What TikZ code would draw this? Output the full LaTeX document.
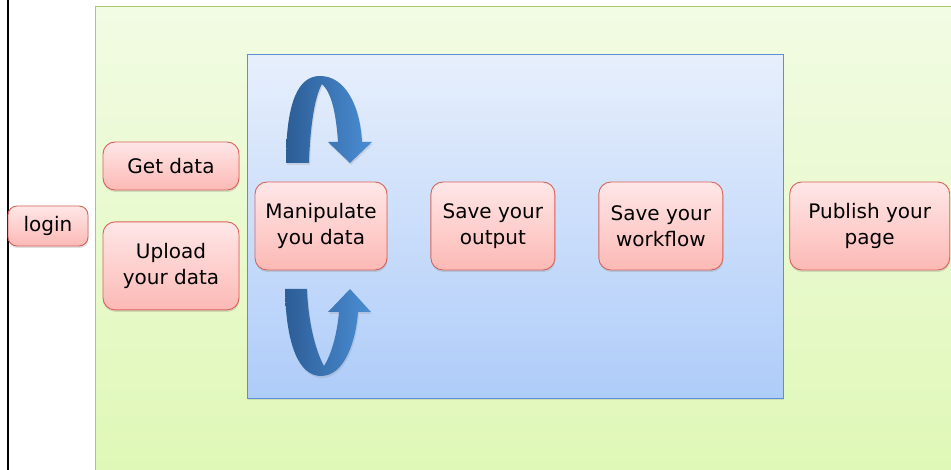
\documentclass[tikz,border=0pt]{standalone}
\usepackage{fontspec}
\setmainfont{DejaVu Sans}
\usetikzlibrary{positioning,shadows}
\definecolor{boxtop}{HTML}{FEE7E7}
\definecolor{boxbottom}{HTML}{FCB9B5}
\definecolor{boxline}{HTML}{D9635C}
\definecolor{greentop}{HTML}{F2FBE4}
\definecolor{greenbottom}{HTML}{DFF8B6}
\definecolor{greenline}{HTML}{A6CB6C}
\definecolor{bluetop}{HTML}{E7EFFC}
\definecolor{bluebottom}{HTML}{AECCF9}
\definecolor{blueline}{HTML}{5D8FD5}
\definecolor{arrowdark}{HTML}{2C5D96}
\definecolor{arrowlight}{HTML}{4B8ED4}
\tikzset{
    task/.style = {rectangle, rounded corners=12pt, minimum width=124pt, minimum height=88pt, inner sep=0pt, align=center, draw=boxline, line width=0.9pt, top color=boxtop, bottom color=boxbottom, drop shadow={opacity=0.25, shadow xshift=0.5pt, shadow yshift=-2pt}, font=\fontsize{20}{26.5}\selectfont},
    panel/.style = {rectangle, anchor=north west, inner sep=0pt, line width=0.9pt},
    uturn/.style = {left color=arrowdark, right color=arrowlight, drop shadow={opacity=0.2, shadow xshift=1pt, shadow yshift=-2pt}}
}

\begin{document}
\begin{tikzpicture}[x=1pt, y=-1pt]
\clip (0,0) rectangle (951,470);
\fill[white] (0,0) rectangle (951,470);
\draw[line width=2pt] (8,0) -- (8,470);

% backgrounds
\node (site) [panel, minimum width=870pt, minimum height=470pt, draw=greenline, top color=greentop, bottom color=greenbottom] at (95,6) {};
\node (workarea) [panel, minimum width=536pt, minimum height=344pt, draw=blueline, top color=bluetop, bottom color=bluebottom, drop shadow={opacity=0.2, shadow xshift=1pt, shadow yshift=-1.5pt}] at (247,54) {};

% steps
\node (login) [task, minimum width=80pt, minimum height=40pt, rounded corners=9pt] at (48,226) {login};
\node (getdata) [task, minimum width=136pt, minimum height=48pt] at (171,166) {Get data};
\node (upload) [task, minimum width=136pt, below=31pt of getdata] {Upload\\your data};
\node (manip) [task, minimum width=132pt] at (321,226) {Manipulate\\you data};
\node (saveout) [task, right=43pt of manip] {Save your\\output};
\node (saveflow) [task, right=43pt of saveout] {Save your\\workflow};
\node (publish) [task, minimum width=160pt, right=66pt of saveflow] {Publish your\\page};

% loops round manip
\path[uturn] (286,163) .. controls (286,100) and (299,76) .. (320,76)
  .. controls (345,76) and (360,105) .. (362,142) -- (372,142) -- (350,163) -- (328,142) -- (338,142)
  .. controls (336,112) and (331,92) .. (322,84)
  .. controls (314,98) and (310,130) .. (309,163) -- cycle;
\path[uturn] (285,289) .. controls (286,345) and (299,376) .. (321,376)
  .. controls (345,376) and (356,340) .. (358,312) -- (371,312) -- (350,289) -- (328,312) -- (339,312)
  .. controls (337,335) and (331,355) .. (324,366)
  .. controls (315,350) and (308,320) .. (307,289) -- cycle;
\end{tikzpicture}
\end{document}
